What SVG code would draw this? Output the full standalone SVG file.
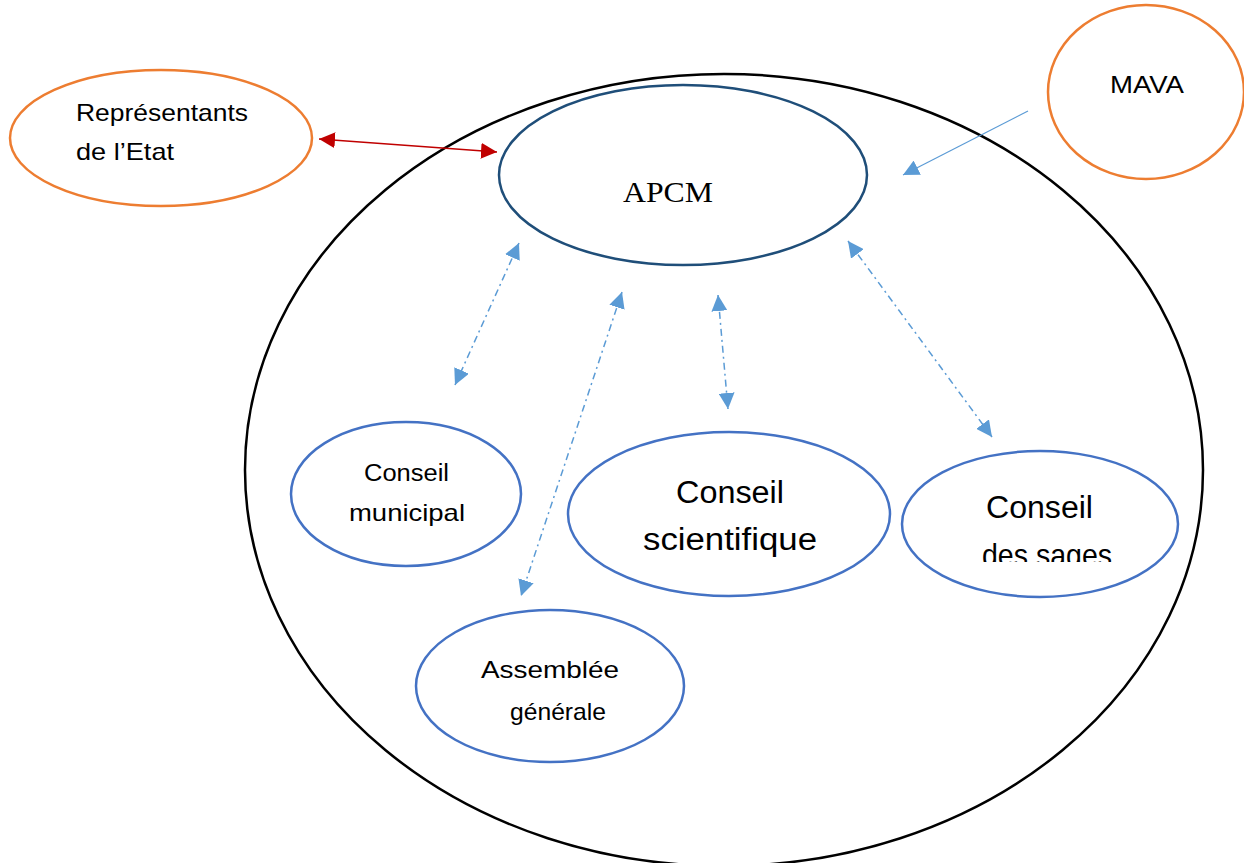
<svg xmlns="http://www.w3.org/2000/svg" width="1244" height="863" viewBox="0 0 1244 863">
<style>
.t{font-family:"Liberation Sans",Arial,sans-serif;fill:#000}
.e{fill:#fff;stroke-width:2.5}
.org{stroke:#ED7D31}
.blu{stroke:#4472C4}
.dk{stroke:#1F4E79}
.dd{fill:none;stroke:#5B9BD5;stroke-width:1.5;stroke-dasharray:7 4 2 4}
</style>
<defs>
<marker id="ab" viewBox="0 0 16 16" refX="16" refY="8" markerWidth="16" markerHeight="16" markerUnits="userSpaceOnUse" orient="auto-start-reverse"><path d="M0,0 L16,8 L0,16 z" fill="#5B9BD5"/></marker>
<marker id="ar" viewBox="0 0 16 16" refX="16" refY="8" markerWidth="16" markerHeight="16" markerUnits="userSpaceOnUse" orient="auto-start-reverse"><path d="M0,0 L16,8 L0,16 z" fill="#C00000"/></marker>
<clipPath id="cs"><rect x="900" y="440" width="280" height="122"/></clipPath>
</defs>
<rect width="1244" height="863" fill="#fff"/>
<g id="cadre"><ellipse cx="724" cy="470" rx="479" ry="396" fill="none" stroke="#000" stroke-width="2.5"/></g>
<g id="representants">
<ellipse class="e org" cx="161" cy="138" rx="151" ry="68"/>
<text class="t" x="76" y="121" font-size="24" textLength="172" lengthAdjust="spacingAndGlyphs">Représentants</text>
<text class="t" x="76" y="160" font-size="24" textLength="98" lengthAdjust="spacingAndGlyphs">de l’Etat</text>
</g>
<g id="mava">
<ellipse class="e org" cx="1146" cy="92" rx="98" ry="87"/>
<text class="t" x="1110" y="93" font-size="23" textLength="74" lengthAdjust="spacingAndGlyphs">MAVA</text>
</g>
<g id="apcm">
<ellipse class="e dk" cx="683" cy="175" rx="184" ry="90"/>
<text x="623" y="202" font-family="'Liberation Serif','Times New Roman',serif" font-size="30" textLength="90" lengthAdjust="spacingAndGlyphs">APCM</text>
</g>
<g id="conseil-municipal">
<ellipse class="e blu" cx="406" cy="494" rx="115" ry="72"/>
<text class="t" x="364" y="481" font-size="23" textLength="85" lengthAdjust="spacingAndGlyphs">Conseil</text>
<text class="t" x="349" y="521" font-size="24" textLength="116" lengthAdjust="spacingAndGlyphs">municipal</text>
</g>
<g id="conseil-scientifique">
<ellipse class="e blu" cx="729" cy="514" rx="161" ry="82"/>
<text class="t" x="676" y="503" font-size="31" textLength="108" lengthAdjust="spacingAndGlyphs">Conseil</text>
<text class="t" x="643" y="550" font-size="31" textLength="174" lengthAdjust="spacingAndGlyphs">scientifique</text>
</g>
<g id="conseil-sages">
<ellipse class="e blu" cx="1040" cy="524" rx="138" ry="73"/>
<g clip-path="url(#cs)">
<text class="t" x="986" y="518" font-size="31" textLength="107" lengthAdjust="spacingAndGlyphs">Conseil</text>
<text class="t" x="982" y="566" font-size="32" textLength="130" lengthAdjust="spacingAndGlyphs">des sages</text>
</g>
</g>
<g id="assemblee-generale">
<ellipse class="e blu" cx="550" cy="686" rx="134" ry="76"/>
<text class="t" x="481" y="678" font-size="24" textLength="138" lengthAdjust="spacingAndGlyphs">Assemblée</text>
<text class="t" x="510" y="720" font-size="24" textLength="96" lengthAdjust="spacingAndGlyphs">générale</text>
</g>
<g id="connecteurs">
<line x1="319" y1="139" x2="497" y2="152" stroke="#C00000" stroke-width="1.5" marker-start="url(#ar)" marker-end="url(#ar)"/>
<line x1="1028" y1="111" x2="903" y2="175" stroke="#5B9BD5" stroke-width="1.2" marker-end="url(#ab)"/>
<line class="dd" x1="519" y1="243" x2="455" y2="385" marker-start="url(#ab)" marker-end="url(#ab)"/>
<line class="dd" x1="622" y1="292" x2="521" y2="596" marker-start="url(#ab)" marker-end="url(#ab)"/>
<line class="dd" x1="718" y1="295" x2="728" y2="409" marker-start="url(#ab)" marker-end="url(#ab)"/>
<line class="dd" x1="848" y1="241" x2="992" y2="437" marker-start="url(#ab)" marker-end="url(#ab)"/>
</g>
</svg>
